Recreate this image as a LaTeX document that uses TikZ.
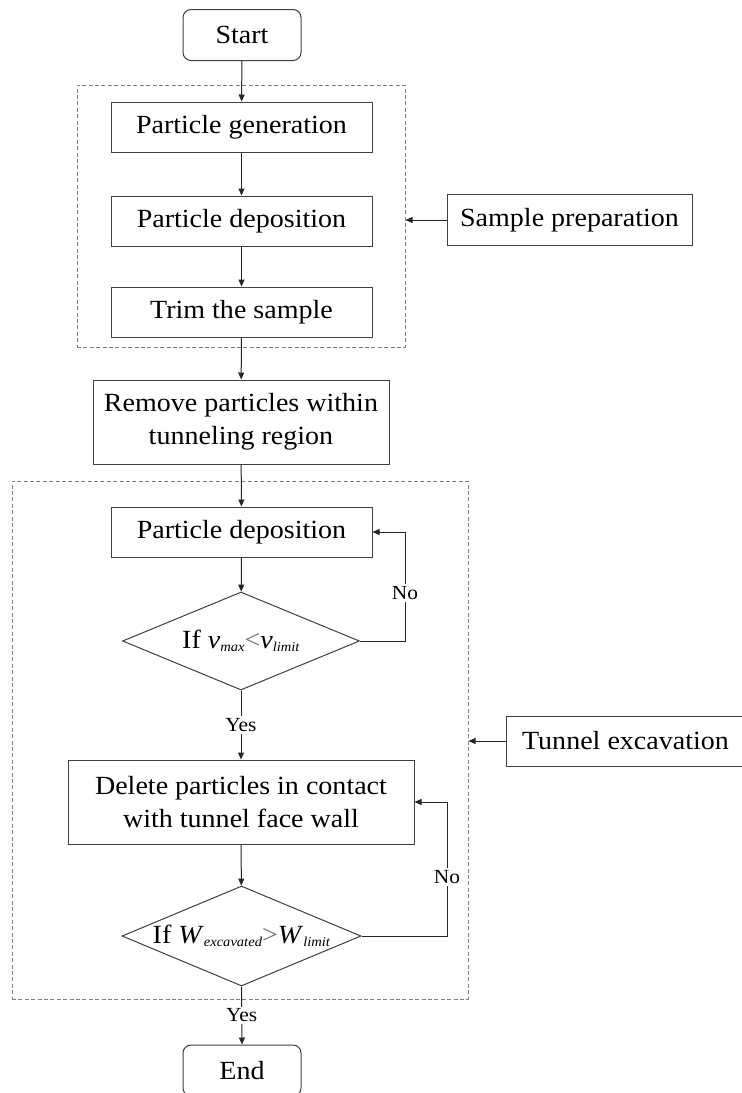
\documentclass[tikz,border=0pt]{standalone}
\usepackage{fontspec}
\setmainfont[FakeStretch=1.07]{Liberation Serif}
\usetikzlibrary{shapes.geometric,arrows.meta}
\newcommand{\lowsub}[1]{\raisebox{-0.3ex}{\fontsize{6.8}{8}\selectfont\textit{#1}}}

\begin{document}
\begin{tikzpicture}[
    x=0.5pt, y=-0.5pt,
    every node/.style={font=\fontsize{13.1}{16.5}\selectfont},
    process/.style={rectangle, draw=black!75, line width=0.5pt, fill=white, align=center, inner sep=0pt},
    terminal/.style={process, rounded corners=4pt, minimum width=59pt, minimum height=25.5pt},
    decision/.style={diamond, draw=black!75, line width=0.5pt, fill=white, inner sep=0pt},
    group/.style={rectangle, draw=black!50, line width=0.5pt, dash pattern=on 2pt off 1.2pt, inner sep=0pt},
    flow/.style={-{Triangle[length=3.5pt,width=3pt]}, draw=black!85, line width=0.5pt},
    lbl/.style={fill=white, inner sep=1pt, font=\fontsize{10}{11}\selectfont}
]
\useasboundingbox (0,0) rectangle (742,1093);

% Dashed groups
\node[group, minimum width=164pt, minimum height=131pt] (prepgrp) at (241,216) {};
\node[group, minimum width=228pt, minimum height=259pt] (tunnelgrp) at (240,740) {};

% Nodes
\node[terminal] (start) at (242,35) {Start};
\node[process, minimum width=130.5pt, minimum height=25pt] (gen) at (241.5,127) {Particle generation};
\node[process, minimum width=130.5pt, minimum height=25pt] (dep) at (241.5,221) {Particle deposition};
\node[process, minimum width=130.5pt, minimum height=25pt] (trim) at (241.5,312) {Trim the sample};
\node[process, minimum width=148pt, minimum height=42pt] (remove) at (241,422) {Remove particles within\\tunneling region};
\node[process, minimum width=130.5pt, minimum height=25pt] (dep2) at (241.5,532) {Particle deposition};
\node[decision, minimum width=118.5pt, minimum height=49pt,
      label=center:{If \textit{v}\lowsub{max}{\color{black!55}<}\textit{v}\lowsub{limit}}] (vcheck) at (241,641) {};
\node[process, minimum width=173pt, minimum height=42pt] (delete) at (241,802) {Delete particles in contact\\with tunnel face wall};
\node[decision, minimum width=119.5pt, minimum height=50pt,
      label=center:{If \textit{W}\lowsub{excavated}{\color{black!55}>}\textit{W}\lowsub{limit}}] (wcheck) at (241.5,936) {};
\node[terminal] (end) at (242,1070.5) {End};

\node[process, minimum width=122.5pt, minimum height=25.5pt] (prep) at (569.5,220) {Sample preparation};
\node[process, minimum width=119.5pt, minimum height=25pt] (tunnel) at (625.5,741) {Tunnel excavation};

\coordinate (loopv) at (405,641);
\coordinate (loopw) at (447,936);

% Flow
\draw[flow] (start) -- (gen);
\draw[flow] (gen) -- (dep);
\draw[flow] (dep) -- (trim);
\draw[flow] (trim) -- (remove);
\draw[flow] (remove) -- (dep2);
\draw[flow] (dep2) -- (vcheck);
\draw[flow] (vcheck.east) -- (loopv) |- node[pos=0.22, lbl] {No} (dep2.east);
\draw[flow] (vcheck.south) -- node[lbl] {Yes} (delete.north);
\draw[flow] (delete) -- (wcheck);
\draw[flow] (wcheck.east) -- (loopw) |- node[pos=0.22, lbl] {No} (delete.east);
\draw[flow] (wcheck.south) -- node[lbl] {Yes} (end.north);

% Side labels
\draw[flow] (prep.west) -- (prepgrp.east |- prep.west);
\draw[flow] (tunnel.west) -- (tunnelgrp.east |- tunnel.west);

\end{tikzpicture}
\end{document}
